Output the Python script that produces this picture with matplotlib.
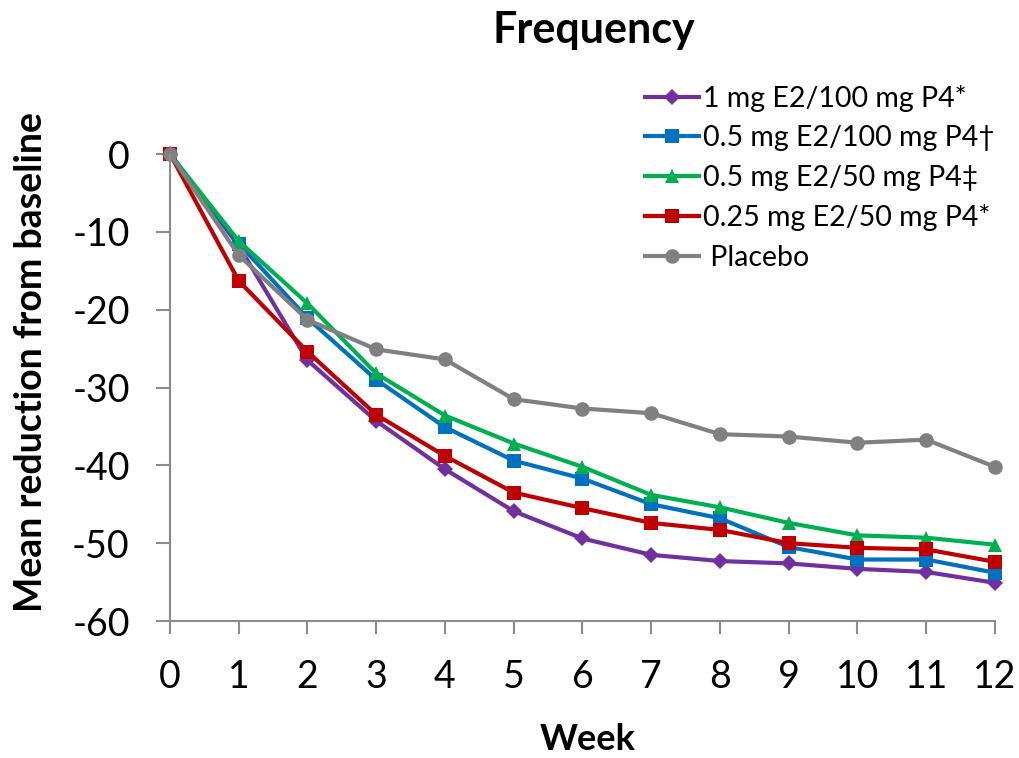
import matplotlib
matplotlib.use("Agg")
import matplotlib.pyplot as plt

plt.rcParams['font.family'] = ['Lato', 'DejaVu Sans']

weeks = [0, 1, 2, 3, 4, 5, 6, 7, 8, 9, 10, 11, 12]

series_labels = [
    "1 mg E2/100 mg P4*",
    "0.5 mg E2/100 mg P4\u2020",
    "0.5 mg E2/50 mg P4\u2021",
    "0.25 mg E2/50 mg P4*",
    " Placebo",
]

e2_1_p4_100 = [0, -11.8, -26.5, -34.3, -40.5, -45.9, -49.4, -51.5, -52.3, -52.6, -53.3, -53.7, -55.1]
e2_05_p4_100 = [0, -11.5, -21.1, -29.0, -35.1, -39.4, -41.7, -45.0, -46.8, -50.5, -52.1, -52.1, -53.8]
e2_05_p4_50 = [0, -11.2, -19.2, -28.2, -33.6, -37.2, -40.2, -43.8, -45.4, -47.4, -49.0, -49.3, -50.2]
e2_025_p4_50 = [0, -16.3, -25.4, -33.5, -38.8, -43.5, -45.5, -47.4, -48.3, -50.0, -50.6, -50.8, -52.4]
placebo = [0, -13.0, -21.3, -25.1, -26.4, -31.5, -32.7, -33.3, -36.0, -36.3, -37.1, -36.7, -40.2]

y_ticks = [0, -10, -20, -30, -40, -50, -60]

series = [e2_1_p4_100, e2_05_p4_100, e2_05_p4_50, e2_025_p4_50, placebo]
colors = ["#7030A0", "#0070C0", "#00B050", "#C00000", "#808080"]
markers = ["D", "s", "^", "s", "o"]
msizes = [8, 10, 10.5, 10, 10.5]

fig = plt.figure(figsize=(10.2, 7.58), dpi=100)
ax = fig.add_axes([170 / 1020, 137 / 758, 825 / 1020, 467 / 758])

for vals, lab, c, m, ms in zip(series, series_labels, colors, markers, msizes):
    ax.plot(weeks, vals, color=c, lw=3, marker=m, markersize=ms,
            markeredgewidth=0, label=lab, clip_on=False)

ax.set_xlim(0, 12)
ax.set_ylim(-60, 0)
ax.set_xticks(weeks)
ax.set_yticks(y_ticks)
ax.set_yticklabels([str(v) for v in y_ticks])

for s in ["top", "right"]:
    ax.spines[s].set_visible(False)
for s in ["left", "bottom"]:
    ax.spines[s].set_color("#8C8C8C")
    ax.spines[s].set_linewidth(1.5)

ax.tick_params(axis="both", colors="#8C8C8C", width=1.5, labelcolor="black",
               labelsize=27, direction="out")
ax.tick_params(axis="y", length=10, pad=19)
ax.tick_params(axis="x", length=9, pad=18)

fig.text(594 / 1020, 1 - 30 / 758, "Frequency", ha="center", va="center",
         fontsize=31, fontweight="bold")
fig.text(588 / 1020, 1 - 740 / 758, "Week", ha="center", va="center",
         fontsize=26, fontweight="bold")
fig.text(31 / 1020, 1 - 362 / 758, "Mean reduction from baseline", ha="center",
         va="center", rotation=90, fontsize=27, fontweight="bold")

leg = ax.legend(loc="upper left", bbox_to_anchor=(645 / 1020, 1 - 85 / 758),
                bbox_transform=fig.transFigure, frameon=False, fontsize=20.5,
                handlelength=1.9, handletextpad=0.14, labelspacing=0.47,
                borderaxespad=0, borderpad=0)

fig.savefig("out.png", dpi=100)
